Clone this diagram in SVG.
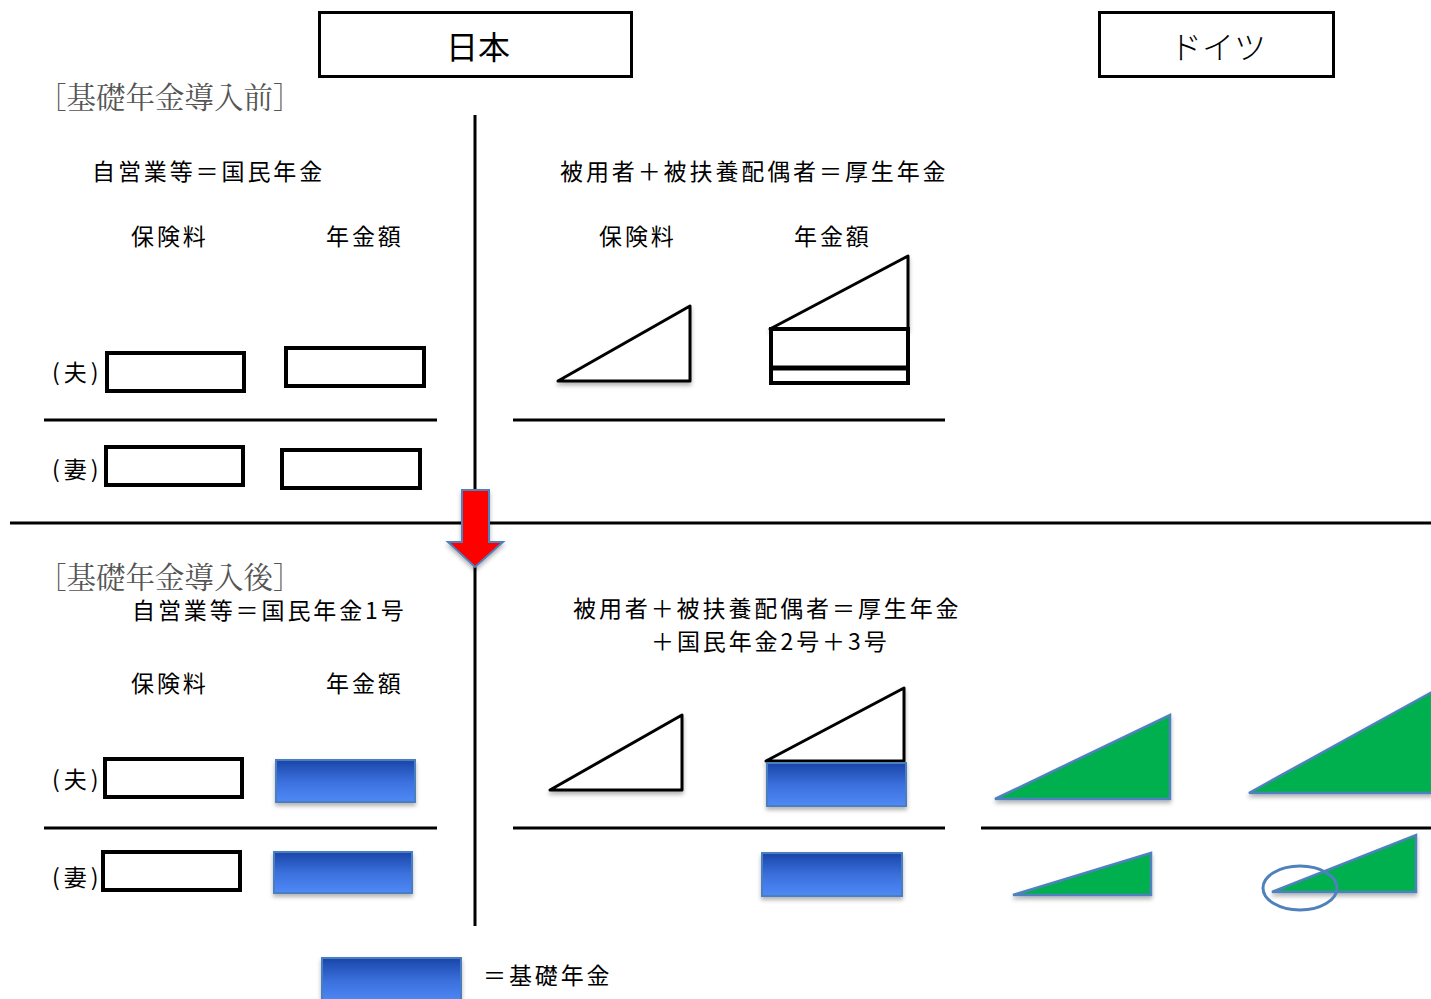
<svg xmlns="http://www.w3.org/2000/svg" width="1431" height="999" viewBox="0 0 1431 999">
<defs>
<linearGradient id="bg" x1="0" y1="0" x2="0" y2="1">
<stop offset="0" stop-color="#1a45a8"/>
<stop offset="0.5" stop-color="#3a6fdc"/>
<stop offset="1" stop-color="#4f8af7"/>
</linearGradient>
<filter id="sh" x="-10%" y="-10%" width="130%" height="140%">
<feDropShadow dx="0" dy="3" stdDeviation="2" flood-color="#000" flood-opacity="0.3"/>
</filter>
<style>
text{font-family:"Noto Sans CJK JP","Noto Sans",sans-serif;fill:#000;}
.t{font-size:23px;letter-spacing:2.9px;}
.p{font-size:23px;letter-spacing:4px;}
.s{font-family:"Noto Serif CJK JP","Liberation Serif","Noto Sans CJK JP",serif;font-size:29.5px;fill:#555;}
.ln{stroke:#000;stroke-width:3;fill:none;}
.box{fill:#fff;stroke:#000;stroke-width:4;}
.tri{fill:#fff;stroke:#000;stroke-width:3;stroke-linejoin:round;filter:url(#sh);}
.blue{fill:url(#bg);stroke:#4a7ec0;stroke-width:2;filter:url(#sh);}
.green{fill:#00b050;stroke:#4f81bd;stroke-width:2.5;filter:url(#sh);}
</style>
</defs>

<g id="title-japan">
<rect x="319.5" y="12.5" width="312" height="64" fill="#fff" stroke="#000" stroke-width="3"/>
<text x="478" y="59" font-size="32" text-anchor="middle">日本</text>
</g>
<g id="title-germany">
<rect x="1099.5" y="12.5" width="234" height="64" fill="#fff" stroke="#000" stroke-width="3"/>
<text x="1218" y="59" font-size="32" font-weight="300" text-anchor="middle">ドイツ</text>
</g>

<g id="connectors">
<line class="ln" x1="475" y1="115" x2="475" y2="926"/>
<line class="ln" x1="10" y1="523" x2="1431" y2="523"/>
<line class="ln" x1="44" y1="420" x2="437" y2="420"/>
<line class="ln" x1="513" y1="420" x2="945" y2="420"/>
<line class="ln" x1="44" y1="828" x2="437" y2="828"/>
<line class="ln" x1="513" y1="828" x2="945" y2="828"/>
<line class="ln" x1="981" y1="828" x2="1431" y2="828"/>
</g>

<g id="arrow">
<polygon points="462,490 489,490 489,542 503,542 475,567 448,542 462,542" fill="#ff0000" stroke="#4f81bd" stroke-width="2" filter="url(#sh)"/>
</g>

<g id="before-label"><text class="s" x="37" y="108">［基礎年金導入前］</text></g>
<g id="after-label"><text class="s" x="37" y="588">［基礎年金導入後］</text></g>

<g id="upper-left">
<text class="t" x="92" y="180">自営業等＝国民年金</text>
<text class="t" x="131" y="245">保険料</text>
<text class="t" x="326" y="245">年金額</text>
<text class="p" x="52" y="381">(夫)</text>
<rect class="box" x="107" y="353" width="137" height="38"/>
<rect class="box" x="286" y="348" width="138" height="38"/>
<text class="p" x="52" y="478">(妻)</text>
<rect class="box" x="106" y="447" width="137" height="38"/>
<rect class="box" x="282" y="450" width="138" height="38"/>
</g>

<g id="upper-right">
<text class="t" x="560" y="180">被用者＋被扶養配偶者＝厚生年金</text>
<text class="t" x="599" y="245">保険料</text>
<text class="t" x="794" y="245">年金額</text>
<polygon class="tri" points="558,381 690,306 690,381"/>
<polygon class="tri" points="770,329 908,256 908,329"/>
<rect class="box" x="771" y="329" width="137" height="54"/>
<line x1="771" y1="368" x2="908" y2="368" stroke="#000" stroke-width="5"/>
</g>

<g id="lower-left">
<text class="t" x="132" y="619">自営業等＝国民年金1号</text>
<text class="t" x="131" y="692">保険料</text>
<text class="t" x="326" y="692">年金額</text>
<text class="p" x="52" y="788">(夫)</text>
<rect class="box" x="105" y="759" width="137" height="38"/>
<rect class="blue" x="276" y="760" width="139" height="42"/>
<text class="p" x="52" y="886">(妻)</text>
<rect class="box" x="103" y="852" width="137" height="38"/>
<rect class="blue" x="274" y="852" width="138" height="41"/>
</g>

<g id="lower-right">
<text class="t" x="573" y="617">被用者＋被扶養配偶者＝厚生年金</text>
<text class="t" x="651" y="650">＋国民年金2号＋3号</text>
<polygon class="tri" points="550,790 682,715 682,790"/>
<polygon class="tri" points="766,761 904,688 904,761"/>
<rect class="blue" x="767" y="763" width="139" height="43"/>
<rect class="blue" x="762" y="853" width="140" height="43"/>
</g>

<g id="germany">
<polygon class="green" points="995,799 1170,715 1170,799"/>
<polygon class="green" points="1249,793 1432,692 1432,793"/>
<polygon class="green" points="1013,895 1151,853 1151,895"/>
<polygon class="green" points="1272,892 1416,835 1416,892"/>
<ellipse cx="1300" cy="888" rx="37" ry="22" fill="none" stroke="#4f81bd" stroke-width="3"/>
</g>

<g id="legend">
<rect class="blue" x="322" y="958" width="139" height="45"/>
<text class="t" x="483" y="984">＝基礎年金</text>
</g>
</svg>
